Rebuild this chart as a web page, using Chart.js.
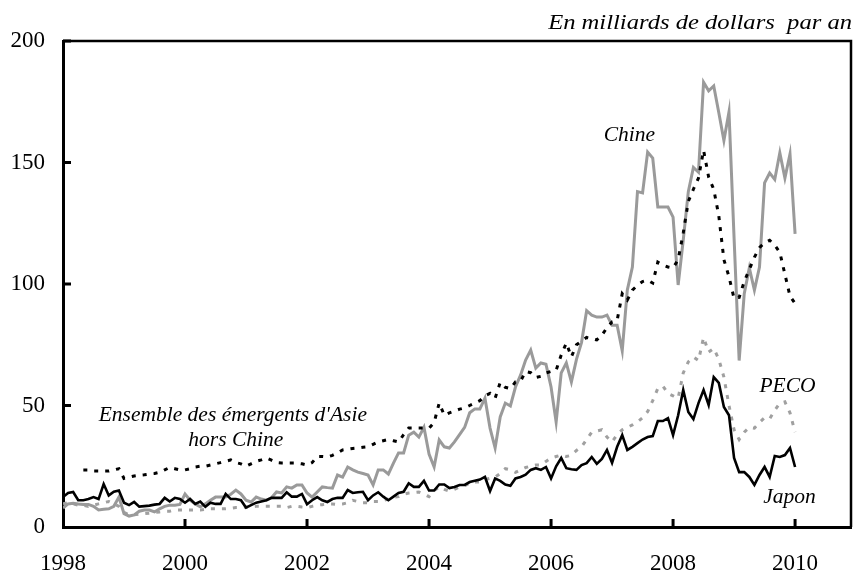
<!DOCTYPE html>
<html>
<head>
<meta charset="utf-8">
<script src="https://cdn.jsdelivr.net/npm/chart.js@4.4.1/dist/chart.umd.min.js"></script>
<style>
  html, body { margin: 0; padding: 0; background: #fff; }
  #cadre { width: 854px; height: 572px; }
</style>
</head>
<body>
<div id="cadre"><canvas id="graf" width="854" height="572"></canvas></div>
<script>
// donnees mensuelles, janvier 1998 -> janvier 2010
const anneeDebut = 1998;
const anneesTicks = [1998, 2000, 2002, 2004, 2006, 2008, 2010];
const valeursTicks = [0, 50, 100, 150, 200];

const chine = [
  7.8, 9.5, 9.8, 9.5, 9.3, 9.3, 8.5, 7, 7.3, 7.5, 8.5, 12.3,
  5.5, 4.5, 5, 6.5, 7, 7, 6.2, 7.5, 8.5, 9, 9, 9.3,
  13.6, 11, 9.5, 8.3, 9.5, 11, 12.3, 12.3, 12.3, 13.5, 15.2, 13.6,
  11, 10.3, 12.3, 11.5, 11, 12, 14.4, 14, 16.5, 16, 17.3, 17.3,
  14, 12.3, 14.4, 16.5, 16.2, 16, 21.4, 20.5, 24.7, 23.5, 22.6, 22,
  21.4, 17.3, 23.5, 23.5, 21.8, 26.3, 30.5, 30.5, 37.8, 39, 37, 41,
  30, 24.7, 35.8, 33, 32.5, 35, 38, 41, 47, 48.6, 48.6, 53,
  40.7, 32.5, 45.3, 51, 49.8, 57.6, 62.5, 68.7, 72.8, 65.4, 67.5, 67,
  57.6, 43.2, 63.4, 67.5, 59.7, 69, 76, 89, 87.2, 86.4, 86.4, 87.2,
  83, 83, 72.5, 97.5, 107, 138, 137.5, 154.3, 151.8, 131.7, 131.7, 131.7,
  127.5, 99.6, 118, 138, 148, 146, 183, 179.5, 181.5, 170.5, 159, 170.8,
  119, 68.5, 96, 106.6, 97.5, 107, 141.6, 145.7, 143, 154, 143.6, 153.5,
  120.6
];

const asieHorsChine = [
  null, null, null, null, 23.5, 23.5, 23, 23, 23, 23, 23.5, 24,
  20, 20.5, 21, 21.3, 21.5, 21.8, 22, 22.5, 23.5, 24.5, 24, 23.5,
  23.5, 24, 24.7, 25, 25, 25.5, 26, 26.5, 27, 27.6, 26.5, 26,
  25, 26, 27, 27.6, 28.4, 27.5, 26.5, 26.3, 26.3, 26.3, 26.3, 26,
  25.5, 26.5, 29, 29, 28.8, 29.5, 30.5, 31.7, 32, 32.3, 32.5, 32.8,
  33, 34, 35, 35.5, 36, 35.5, 35, 38, 40.7, 40.7, 40.7, 40.7,
  40.7, 43, 51, 46, 47, 47.7, 48.5, 49, 50, 51, 52, 54,
  55, 53, 59.5, 57.5, 57, 59.7, 60, 64, 63.5, 61.5, 62, 63.4,
  64, 64.5, 70.8, 75.7, 70, 75, 76.5, 78, 77.5, 77, 79, 82,
  84.4, 85, 96, 93.4, 97.5, 99.5, 101, 101.6, 100.4, 109, 107.8, 107,
  106.6, 110, 121, 134, 139, 143.6, 155, 144, 139, 128, 110, 103,
  94, 94.5, 101, 106, 111, 115, 117, 118, 116, 113, 104, 95,
  92
];

const peco = [
  9.5, 10, 9.5, 9, 9, 8.5, 9, 9.5, 10, 10.5, 9.5, 8.5,
  6, 5, 5, 5.3, 5.5, 5.7, 6, 6.2, 6.5, 6.5, 7, 7,
  7, 7, 7, 7, 7.3, 7.5, 7.5, 7.5, 7.5, 7.7, 8, 8,
  8.2, 8.3, 8.5, 8.5, 8.5, 8.5, 8.5, 8.5, 8, 8.5, 8.5, 8.2,
  8, 8.5, 9, 9.2, 9.5, 9.5, 9.3, 9.5, 10, 11, 10.5, 10,
  10, 10.5, 10.5, 11, 11.5, 12.3, 12.5, 13.5, 14, 14.2, 14.4, 13.5,
  12.5, 15, 16.5, 15.5, 14.8, 15.5, 16.5, 17, 18, 18.5, 18.5, 19.5,
  20, 20.5, 22, 24, 23.5, 22.5, 23.5, 24.5, 25, 25.5, 25.5, 27,
  28.4, 29, 29.6, 29, 29.5, 31.5, 33, 36, 39, 39.5, 40, 37,
  35, 38, 40, 41, 42, 43.2, 45, 47.5, 52, 57, 58, 55,
  54, 53, 63.4, 68, 70, 68.5, 78, 72, 73.5, 69, 61.7, 50,
  40, 36, 39, 41, 40.7, 43, 45, 44.5, 48, 51, 51.5, 47,
  39
];

const japon = [
  12.3, 14, 14.4, 11, 11, 11.5, 12.3, 11.5, 17.7, 13, 14.5, 15,
  10, 9, 10.3, 8.4, 8.6, 8.8, 9.2, 9.5, 12, 10.5, 12, 11.5,
  10, 11.5, 9.5, 10.5, 8.3, 10, 9.5, 9.5, 13.6, 11.5, 11.5, 11,
  8, 9, 10, 10.5, 11, 12, 12, 12, 14.3, 12.5, 12.5, 13.6,
  9.4, 11, 12.3, 11, 10.3, 11.5, 12, 12, 15.2, 14, 14.3, 14.5,
  11, 13, 14.3, 12.5, 11, 12.5, 14, 14.5, 18, 16.5, 16.5, 19,
  15, 15, 17.5, 17.5, 16, 16.5, 17.3, 17.3, 18.5, 19, 19.5, 20.6,
  14.8, 20, 19, 17.5, 17, 20, 20.6, 21.5, 23.5, 24.2, 23.5, 24.7,
  20, 25, 28.4, 24.2, 23.8, 23.5, 25.5, 26.3, 28.8, 26, 28, 31.7,
  26.4, 33, 37.8, 31.7, 33, 34.5, 36, 37, 37.4, 43.6, 43.6, 44.8,
  37.8, 46, 56.4, 47.3, 44.4, 51, 56.4, 50.2, 61.7, 59.3, 49.4, 46,
  28.4, 22.6, 22.6, 20.6, 17.3, 21.4, 24.7, 20.6, 29.2, 28.8, 29.6, 32.5,
  24.7
];

// x = nombre de mois depuis janvier 1998
function points(serie) {
  return serie.map((v, i) => ({ x: i, y: v }));
}

const serif = "'Liberation Serif', 'Times New Roman', serif";
Chart.defaults.font.family = serif;
Chart.defaults.color = '#000';

// cadre, petites graduations vers l'interieur et textes
const habillage = {
  id: 'habillage',
  afterDraw(chart) {
    const ctx = chart.ctx;
    const a = chart.chartArea;
    const x = chart.scales.x;
    const y = chart.scales.y;
    ctx.save();
    ctx.strokeStyle = '#000';
    ctx.lineWidth = 2.5;
    ctx.beginPath();
    ctx.moveTo(a.left, a.top);
    ctx.lineTo(a.right, a.top);
    ctx.lineTo(a.right, a.bottom);
    ctx.stroke();

    ctx.lineWidth = 3;
    ctx.beginPath();
    valeursTicks.slice(1).forEach(v => {
      const py = y.getPixelForValue(v);
      ctx.moveTo(a.left, py);
      ctx.lineTo(a.left + 8, py);
    });
    anneesTicks.slice(1).forEach(an => {
      const px = x.getPixelForValue((an - anneeDebut) * 12);
      ctx.moveTo(px, a.bottom);
      ctx.lineTo(px, a.bottom - 8);
    });
    ctx.stroke();

    // titre d'unite, un peu etire en largeur comme dans l'original
    ctx.fillStyle = '#000';
    ctx.save();
    ctx.translate(852, 29);
    ctx.scale(1.2, 1);
    ctx.font = 'italic 20.5px ' + serif;
    ctx.textAlign = 'right';
    ctx.textBaseline = 'alphabetic';
    ctx.fillText('En milliards de dollars  par an', 0, 0);
    ctx.restore();

    // etiquettes des courbes, placees en coordonnees du graphique
    ctx.textAlign = 'center';
    ctx.textBaseline = 'middle';
    ctx.font = 'italic 21.5px ' + serif;
    const txt = (t, mois, val) => ctx.fillText(t, x.getPixelForValue(mois), y.getPixelForValue(val));
    txt('Chine', 111.4, 161.3);
    txt("Ensemble des émergents d'Asie", 33.4, 46);
    txt('hors Chine', 34, 35.7);
    txt('PECO', 142.5, 57.8);
    txt('Japon', 142.9, 12.2);
    ctx.restore();
  }
};

new Chart(document.getElementById('graf'), {
  type: 'line',
  data: {
    datasets: [
      {
        label: 'Japon',
        data: points(japon),
        borderColor: '#000',
        borderWidth: 2.6,
        order: 1
      },
      {
        label: "Ensemble des émergents d'Asie hors Chine",
        data: points(asieHorsChine),
        borderColor: '#000',
        borderWidth: 3,
        borderDash: [4, 7],
        order: 2
      },
      {
        label: 'Chine',
        data: points(chine),
        borderColor: '#9a9a9a',
        borderWidth: 3,
        order: 3
      },
      {
        label: 'PECO',
        data: points(peco),
        borderColor: '#a0a0a0',
        borderWidth: 3,
        borderDash: [4, 7],
        order: 4
      }
    ]
  },
  options: {
    responsive: false,
    animation: false,
    devicePixelRatio: 1,
    layout: { padding: { top: 41, right: 3, left: 0, bottom: 0 } },
    elements: {
      point: { radius: 0 },
      line: { tension: 0, fill: false, borderCapStyle: 'butt', borderJoinStyle: 'miter' }
    },
    plugins: {
      legend: { display: false },
      tooltip: { enabled: false },
      title: { display: false }
    },
    scales: {
      x: {
        type: 'linear',
        min: 0,
        max: 155,
        grid: { display: false, drawTicks: false },
        border: { display: true, color: '#000', width: 3 },
        ticks: {
          font: { size: 23 },
          color: '#000',
          padding: 23,
          maxRotation: 0,
          autoSkip: false,
          callback: v => Math.round(anneeDebut + v / 12)
        },
        afterBuildTicks: s => { s.ticks = anneesTicks.map(an => ({ value: (an - anneeDebut) * 12 })); },
        afterFit: s => { s.height = 45; }
      },
      y: {
        min: 0,
        max: 200,
        grid: { display: false, drawTicks: false },
        border: { display: true, color: '#000', width: 3 },
        ticks: {
          font: { size: 23 },
          color: '#000',
          padding: 18
        },
        afterBuildTicks: s => { s.ticks = valeursTicks.map(v => ({ value: v })); },
        afterFit: s => { s.width = 63; }
      }
    }
  },
  plugins: [habillage]
});
</script>
</body>
</html>
